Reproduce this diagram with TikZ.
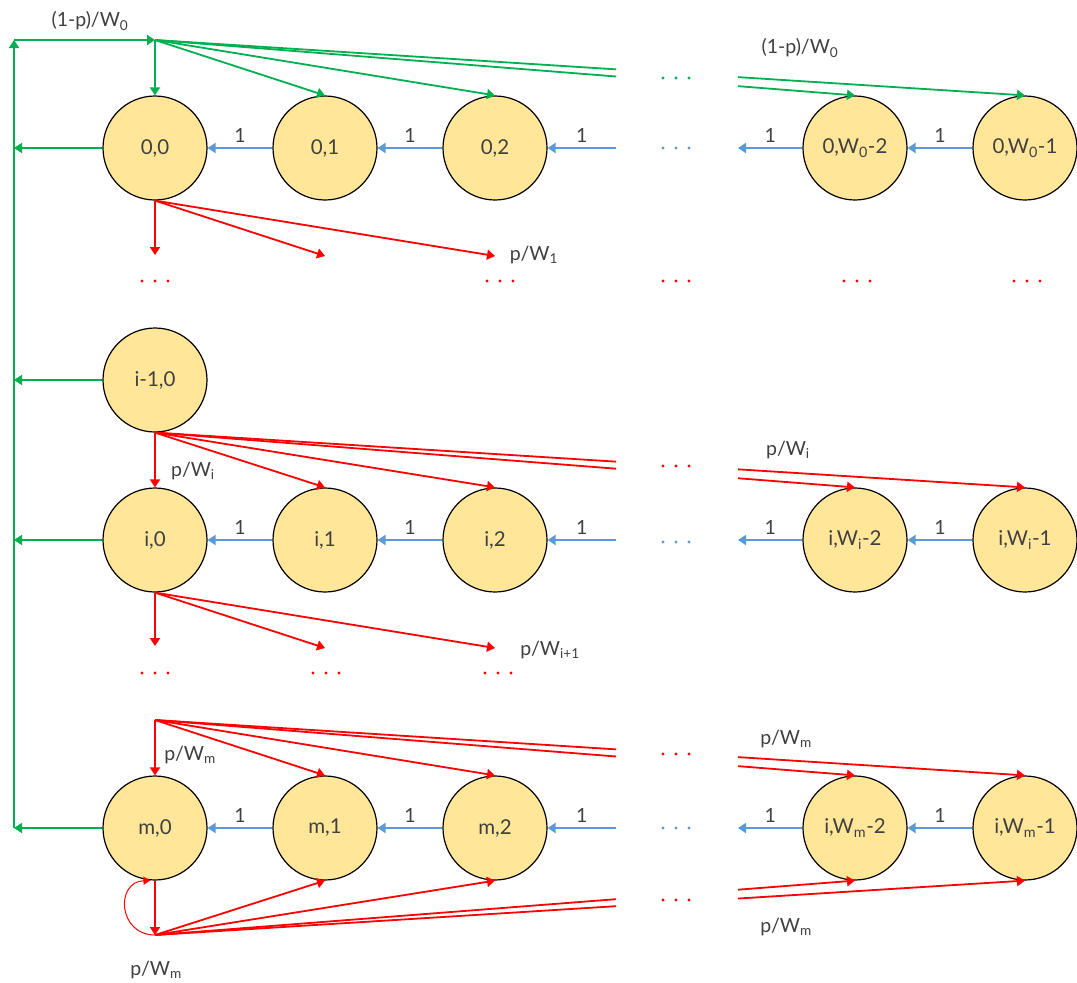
\documentclass[tikz,border=0pt]{standalone}
\usepackage{fontspec}
\setmainfont{Lato}
\usetikzlibrary{arrows.meta,calc}
\definecolor{gr}{HTML}{00B050}
\definecolor{rd}{HTML}{FF0000}
\definecolor{bl}{HTML}{5B9BD5}
\definecolor{nf}{HTML}{FFE699}
\definecolor{tx}{HTML}{404040}
\newcommand{\threedots}[3]{\fill[#3] (#1-13,#2) circle (1.7pt) (#1,#2) circle (1.7pt) (#1+13,#2) circle (1.7pt);}
\tikzset{
  st/.style={circle, draw=black, line width=1.2pt, fill=nf, minimum size=104pt, inner sep=0pt, text=tx, font=\fontsize{20.5}{24}\selectfont},
  lab/.style={text=tx, font=\fontsize{19.5}{23}\selectfont, inner sep=0pt},
  arw/.style={-{Triangle[length=8pt,width=10pt]}},
  gline/.style={draw=gr, line width=1.8pt, arw},
  rline/.style={draw=rd, line width=1.8pt, arw},
  rplain/.style={draw=rd, line width=1.8pt},
  gplain/.style={draw=gr, line width=1.8pt},
  bline/.style={draw=bl, line width=1.8pt, arw},
}
\begin{document}
\begin{tikzpicture}[x=1pt,y=-1pt]
\fill[white] (0,0) rectangle (1077,983);
\useasboundingbox (0,0) rectangle (1077,983);

% ---------- nodes ----------
\node[st] (a0) at (155,148) {0,0};
\node[st] (a1) at (325,148) {0,1};
\node[st] (a2) at (495,148) {0,2};
\node[st] (a3) at (855,148) {0,W\textsubscript{0}-2};
\node[st] (a4) at (1025,148) {0,W\textsubscript{0}-1};

\node[st] (b0) at (155,380) {i-1,0};

\node[st] (c0) at (155,540) {i,0};
\node[st] (c1) at (325,540) {i,1};
\node[st] (c2) at (495,540) {i,2};
\node[st] (c3) at (855,540) {i,W\textsubscript{i}-2};
\node[st] (c4) at (1025,540) {i,W\textsubscript{i}-1};

\node[st] (d0) at (155,828) {m,0};
\node[st] (d1) at (325,828) {m,1};
\node[st] (d2) at (495,828) {m,2};
\node[st] (d3) at (855,828) {i,W\textsubscript{m}-2};
\node[st] (d4) at (1025,828) {i,W\textsubscript{m}-1};

% ---------- coordinates ----------
\coordinate (gtop) at (155,40);
\coordinate (gcorner) at (14,40);
\coordinate (gbot) at (14,828);
\coordinate (mtop) at (155,720);
\coordinate (mbot) at (155,935);
\coordinate (r0a) at (155,255);
\coordinate (r0b) at (325,256);
\coordinate (r0c) at (495,256);
\coordinate (r1a) at (155,646);
\coordinate (r1b) at (325,648);
\coordinate (r1c) at (495,648);

% ---------- green ----------
\draw[gline] (gbot) -- (gcorner);
\draw[gline] (gcorner) -- (gtop);
\draw[gline] (a0.west) -- (a0.west -| gbot);
\draw[gline] (b0.west) -- (b0.west -| gbot);
\draw[gline] (c0.west) -- (c0.west -| gbot);
\draw[gline] (d0.west) -- (d0.west -| gbot);
\draw[gline] (gtop) -- (a0.north);
\draw[gline] (gtop) -- (a1.north);
\draw[gline] (gtop) -- (a2.north);
\draw[gplain] (gtop) -- ($(gtop)!0.6586!(a3.north)$);
\draw[gline] ($(gtop)!0.8329!(a3.north)$) -- (a3.north);
\draw[gplain] (gtop) -- ($(gtop)!0.5299!(a4.north)$);
\draw[gline] ($(gtop)!0.6701!(a4.north)$) -- (a4.north);

% ---------- blue ----------
\foreach \r/\y in {a/148,c/540,d/828}{
  \coordinate (\r gR) at (616,\y);
  \coordinate (\r gL) at (738,\y);
  \draw[bline] (\r1.west) -- (\r0.east) node[lab, midway, above=5pt] {1};
  \draw[bline] (\r2.west) -- (\r1.east) node[lab, midway, above=5pt] {1};
  \draw[bline] (\r gR) -- (\r2.east) node[lab, midway, above=5pt] {1};
  \draw[bline] (\r3.west) -- (\r gL) node[lab, midway, above=5pt] {1};
  \draw[bline] (\r4.west) -- (\r3.east) node[lab, midway, above=5pt] {1};
}

% ---------- red: row 0 ----------
\draw[rline] (a0.south) -- (r0a);
\draw[rline] (a0.south) -- (r0b);
\draw[rline] (a0.south) -- (r0c);

% ---------- red: row i ----------
\draw[rline] (b0.south) -- (c0.north);
\draw[rline] (b0.south) -- (c1.north);
\draw[rline] (b0.south) -- (c2.north);
\draw[rplain] (b0.south) -- ($(b0.south)!0.6586!(c3.north)$);
\draw[rline] ($(b0.south)!0.8329!(c3.north)$) -- (c3.north);
\draw[rplain] (b0.south) -- ($(b0.south)!0.5299!(c4.north)$);
\draw[rline] ($(b0.south)!0.6701!(c4.north)$) -- (c4.north);
\draw[rline] (c0.south) -- (r1a);
\draw[rline] (c0.south) -- (r1b);
\draw[rline] (c0.south) -- (r1c);

% ---------- red: row m ----------
\draw[rline] (mtop) -- (d0.north);
\draw[rline] (mtop) -- (d1.north);
\draw[rline] (mtop) -- (d2.north);
\draw[rplain] (mtop) -- ($(mtop)!0.6586!(d3.north)$);
\draw[rline] ($(mtop)!0.8329!(d3.north)$) -- (d3.north);
\draw[rplain] (mtop) -- ($(mtop)!0.5299!(d4.north)$);
\draw[rline] ($(mtop)!0.6701!(d4.north)$) -- (d4.north);

\draw[rline] (d0.south) -- (mbot);
\draw[rline] (mbot) -- (d1.south);
\draw[rline] (mbot) -- (d2.south);
\draw[rplain] (mbot) -- ($(mbot)!0.6586!(d3.south)$);
\draw[rline] ($(mbot)!0.8329!(d3.south)$) -- (d3.south);
\draw[rplain] (mbot) -- ($(mbot)!0.5299!(d4.south)$);
\draw[rline] ($(mbot)!0.6701!(d4.south)$) -- (d4.south);
\draw[draw=rd, line width=1pt, -{Triangle[length=7pt,width=8pt]}] (mbot) .. controls (118,935) and (115,882) .. (d0.265);

% ---------- dots ----------
\threedots{676}{78}{gr}
\threedots{676}{148}{bl}
\threedots{155}{281}{rd}
\threedots{500}{281}{rd}
\threedots{676}{281}{rd}
\threedots{857}{281}{rd}
\threedots{1027}{281}{rd}
\threedots{676}{466}{rd}
\threedots{676}{542}{bl}
\threedots{155}{673}{rd}
\threedots{326}{673}{rd}
\threedots{498}{673}{rd}
\threedots{676}{754}{rd}
\threedots{676}{828}{bl}
\threedots{676}{900}{rd}

% ---------- labels ----------
\node[lab] (l1) at (90,21) {(1-p)/W\textsubscript{0}};
\node[lab] (l2) at (800,48) {(1-p)/W\textsubscript{0}};
\node[lab] (l3) at (534,255) {p/W\textsubscript{1}};
\node[lab] (l4) at (193,471) {p/W\textsubscript{i}};
\node[lab] (l5) at (788,450) {p/W\textsubscript{i}};
\node[lab] (l6) at (550,650) {p/W\textsubscript{i+1}};
\node[lab] (l7) at (190,755) {p/W\textsubscript{m}};
\node[lab] (l8) at (786,739) {p/W\textsubscript{m}};
\node[lab] (l9) at (786,927) {p/W\textsubscript{m}};
\node[lab] (l10) at (156,970) {p/W\textsubscript{m}};
\end{tikzpicture}
\end{document}
